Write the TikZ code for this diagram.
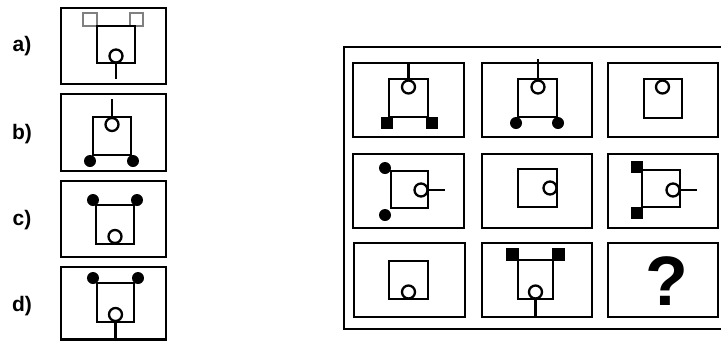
\documentclass[tikz,border=0pt]{standalone}
\usepackage{fontspec}
\setmainfont{Liberation Sans}
\begin{document}
\begin{tikzpicture}[x=1pt,y=-1pt,
  frame/.style={draw=black,line width=2.3pt},
  fig/.style={draw=black,line width=2.3pt},
  hole/.style={draw=black,fill=white,line width=2.3pt},
  dot/.style={fill=black},
  blk/.style={fill=black},
  hollowsq/.style={draw=gray,line width=1.4pt},
  lbl/.style={font=\fontsize{21}{21}\selectfont\bfseries,inner sep=0pt}]
\useasboundingbox (0,0) rectangle (721,341);
% ---------- answer options ----------
\node[lbl] (la) at (22,46.5) {a)};
\node[lbl] (lb) at (22,134) {b)};
\node[lbl] (lc) at (22,220) {c)};
\node[lbl] (ld) at (22,306) {d)};
% a)
\draw[frame] (61,8) rectangle (166,84);
\draw[hollowsq] (83,13) rectangle (97,26);
\draw[hollowsq] (130,13) rectangle (143,26);
\draw[fig] (97,26) rectangle (135,63);
\draw[fig] (116,63) -- (116,79);
\draw[hole] (116,56) circle (6.5pt);
% b)
\draw[frame] (61,94) rectangle (166,171);
\draw[fig] (93,117) rectangle (131,155);
\draw[fig] (112,99) -- (112,117);
\draw[hole] (112,124.5) circle (6.5pt);
\fill[dot] (90,161) circle (6pt);
\fill[dot] (133,161) circle (6pt);
% c)
\draw[frame] (61,181) rectangle (166,257);
\draw[fig] (96,205) rectangle (134,244);
\fill[dot] (93,200) circle (6pt);
\fill[dot] (137,200) circle (6pt);
\draw[hole] (115,236.5) circle (6.5pt);
% d)
\draw[frame] (61,267) rectangle (166,339.5);
\draw[fig] (97,283) rectangle (134,322);
\fill[dot] (93,278) circle (6pt);
\fill[dot] (138,278) circle (6pt);
\draw[fig] (115.5,322) -- (115.5,339);
\draw[hole] (115.5,314.5) circle (6.5pt);
% ---------- matrix ----------
\draw[frame] (344,47) rectangle (730,329);
% row 1
\draw[frame] (353,63) rectangle (464,137);
\draw[frame] (482,63) rectangle (592,137);
\draw[frame] (608,63) rectangle (718,137);
% r1c1
\draw[fig] (389,79) rectangle (428,117);
\draw[fig] (408.5,63) -- (408.5,80);
\draw[hole] (408.5,87) circle (6.5pt);
\fill[blk] (381,117) rectangle (393,129);
\fill[blk] (426,117) rectangle (438,129);
% r1c2
\draw[fig] (518,79) rectangle (557,117);
\draw[fig] (538,59) -- (538,80);
\draw[hole] (538,87) circle (6.5pt);
\fill[dot] (516,123) circle (6pt);
\fill[dot] (558,123) circle (6pt);
% r1c3
\draw[fig] (644,79) rectangle (682,118);
\draw[hole] (662.5,87) circle (6.5pt);
% row 2
\draw[frame] (353,154) rectangle (464,228);
\draw[frame] (482,154) rectangle (592,228);
\draw[frame] (608,154) rectangle (718,228);
% r2c1
\draw[fig] (391,171) rectangle (428,208);
\draw[fig] (428,190) -- (445,190);
\draw[hole] (421,190) circle (6.5pt);
\fill[dot] (385,168) circle (6pt);
\fill[dot] (385,215) circle (6pt);
% r2c2
\draw[fig] (518,169) rectangle (557,207);
\draw[hole] (550,188) circle (6.5pt);
% r2c3
\draw[fig] (642,170) rectangle (680,207);
\draw[fig] (680,190) -- (697,190);
\draw[hole] (673,190) circle (6.5pt);
\fill[blk] (631,161) rectangle (643,173);
\fill[blk] (631,207) rectangle (643,219);
% row 3
\draw[frame] (354,243) rectangle (465,317);
\draw[frame] (482,243) rectangle (592,317);
\draw[frame] (608,243) rectangle (718,317);
% r3c1
\draw[fig] (389,261) rectangle (428,299);
\draw[hole] (408.5,292) circle (6.5pt);
% r3c2
\draw[fig] (518,260) rectangle (553,299);
\fill[blk] (506,248) rectangle (519,261);
\fill[blk] (552,248) rectangle (565,261);
\draw[fig] (535.5,299) -- (535.5,317);
\draw[hole] (535.5,292) circle (6.5pt);
% r3c3
\node[font=\fontsize{70}{70}\selectfont\bfseries,inner sep=0pt] (q) at (667,281) {?};
\end{tikzpicture}
\end{document}
